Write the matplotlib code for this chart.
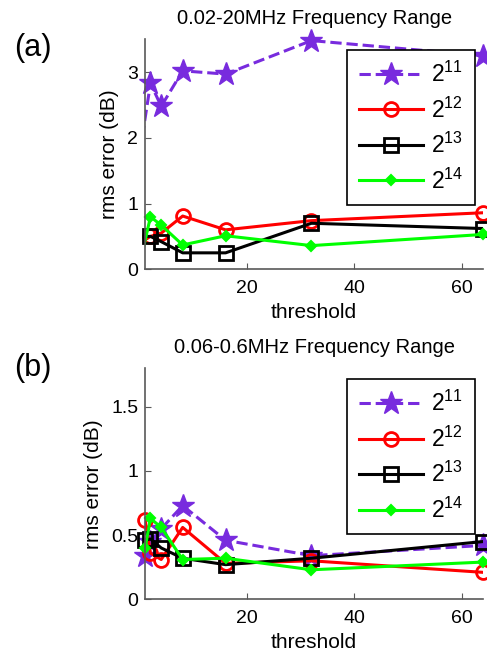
import matplotlib
matplotlib.use("Agg")
import matplotlib.pyplot as plt
from matplotlib.legend_handler import HandlerTuple

plt.rcParams['font.family'] = ['Liberation Sans', 'DejaVu Sans']
plt.rcParams['mathtext.fontset'] = 'custom'
plt.rcParams['mathtext.rm'] = 'Liberation Sans'

# thresholds (top panel's first point lies left of the axis)
x_a = [0, 2, 4, 8, 16, 32, 64]
x_b = [1, 2, 4, 8, 16, 32, 64]

labels = [r'$\mathregular{2^{11}}$', r'$\mathregular{2^{12}}$',
          r'$\mathregular{2^{13}}$', r'$\mathregular{2^{14}}$']

# (a) 0.02-20MHz
a_2_11 = [1.77, 2.83, 2.48, 3.02, 2.97, 3.48, 3.25]
a_2_12 = [0.40, 0.50, 0.55, 0.81, 0.60, 0.74, 0.86]
a_2_13 = [0.50, 0.50, 0.42, 0.25, 0.25, 0.70, 0.62]
a_2_14 = [0.08, 0.80, 0.67, 0.37, 0.51, 0.36, 0.53]

# (b) 0.06-0.6MHz
b_2_11 = [0.34, 0.45, 0.55, 0.73, 0.46, 0.34, 0.42]
b_2_12 = [0.62, 0.36, 0.31, 0.56, 0.28, 0.30, 0.21]
b_2_13 = [0.46, 0.47, 0.40, 0.32, 0.27, 0.32, 0.45]
b_2_14 = [0.40, 0.63, 0.56, 0.31, 0.32, 0.23, 0.29]

purple = (0.47, 0.17, 0.87)
green = (0.0, 1.0, 0.0)
grey = (0.35, 0.35, 0.35)

styles = [
    dict(ls='--', color=purple, marker='*', ms=17, mfc=purple, mew=1),
    dict(ls='-', color='red', marker='o', ms=10, mfc='none', mew=2),
    dict(ls='-', color='black', marker='s', ms=10, mfc='none', mew=2),
    dict(ls='-', color=green, marker='D', ms=5, mfc=green, mew=1.5),
]


def draw(ax, x, y, st):
    # line clipped to the axes, markers drawn like MATLAB (not clipped)
    ln, = ax.plot(x, y, ls=st['ls'], color=st['color'], lw=2.2)
    xs = [xi for xi in x if xi >= 1]
    ys = [yi for xi, yi in zip(x, y) if xi >= 1]
    mk, = ax.plot(xs, ys, ls='none', marker=st['marker'], ms=st['ms'],
                  mfc=st['mfc'], mec=st['color'], mew=st['mew'], clip_on=False)
    return (ln, mk)


def panel(ax, x, series, ylim, yticks, yticklabels, title, tag, tag_y):
    handles = [draw(ax, x, s, st) for s, st in zip(series, styles)]
    ax.set_xlim(1, 64)
    ax.set_ylim(*ylim)
    ax.set_xticks([20, 40, 60])
    ax.set_yticks(yticks)
    ax.set_yticklabels(yticklabels)
    for side in ['top', 'right']:
        ax.spines[side].set_visible(False)
    for side in ['left', 'bottom']:
        ax.spines[side].set_color(grey)
        ax.spines[side].set_linewidth(1.2)
    ax.tick_params(direction='in', length=4, color=grey, labelsize=14)
    ax.tick_params(axis='x', pad=8)
    ax.tick_params(axis='y', pad=5)
    ax.set_xlabel('threshold', fontsize=15, labelpad=4)
    ax.set_ylabel('rms error (dB)', fontsize=15, labelpad=6)
    ax.set_title(title, fontsize=14.5, pad=11)
    leg = ax.legend(handles, labels, loc='upper right', bbox_to_anchor=(0.975, 0.952),
                    fontsize=16.5, handlelength=2.8, labelspacing=0.45, borderpad=0.5,
                    handletextpad=0.35, fancybox=False, framealpha=1, borderaxespad=0,
                    handler_map={tuple: HandlerTuple(ndivide=1, pad=0)})
    leg.get_frame().set_edgecolor('black')
    leg.get_frame().set_linewidth(1.2)
    ax.figure.text(0.03, 1 - tag_y / 659, tag, fontsize=22, va='center')


fig = plt.figure(figsize=(4.87, 6.59), dpi=100)
ax1 = fig.add_axes([0.298, 0.5914, 0.694, 0.349])
ax2 = fig.add_axes([0.298, 0.0906, 0.694, 0.3505])

panel(ax1, x_a, [a_2_11, a_2_12, a_2_13, a_2_14], (0, 3.5),
      [0, 1, 2, 3], ['0', '1', '2', '3'], '0.02-20MHz Frequency Range', '(a)', 48)
panel(ax2, x_b, [b_2_11, b_2_12, b_2_13, b_2_14], (0, 1.8),
      [0, 0.5, 1, 1.5], ['0', '0.5', '1', '1.5'], '0.06-0.6MHz Frequency Range', '(b)', 368)

fig.savefig('out.png', dpi=100)
